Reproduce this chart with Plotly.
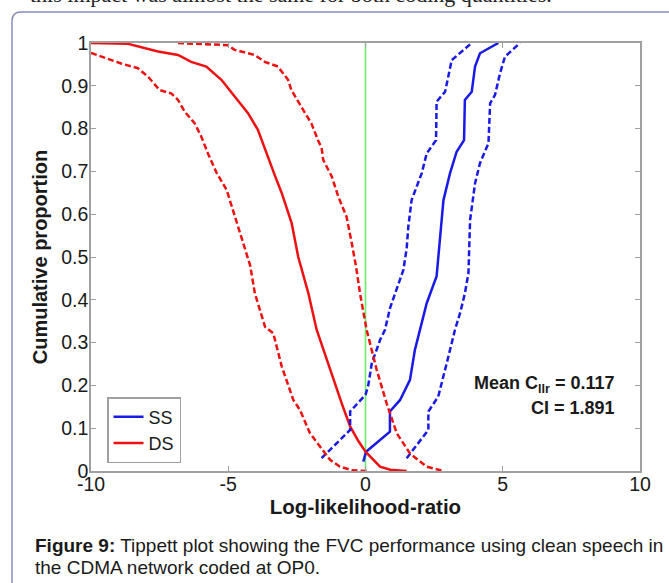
import plotly.graph_objects as go

# ---------------- data ----------------
ds_x = [-10, -8.65, -7.56, -6.83, -6.35, -5.8, -5.25, -4.77, -4.28, -3.92, -3.61, -3.3,
        -3.05, -2.69, -2.45, -2.08, -1.78, -1.41, -1.17, -0.85, -0.56, -0.26, 0.0, 0.53,
        0.9, 1.5]
ds_p = [1.0, 0.998, 0.98, 0.972, 0.956, 0.945, 0.914, 0.875, 0.836, 0.797, 0.742, 0.69,
        0.649, 0.579, 0.5, 0.415, 0.33, 0.259, 0.213, 0.155, 0.104, 0.07, 0.045, 0.01,
        0.003, 0.0]

ds_lo_x = [-10, -8.9, -8.29, -7.92, -7.5, -7.07, -6.83, -6.59, -6.22, -5.98, -5.74, -5.42,
           -5.06, -4.75, -4.45, -4.2, -4.03, -3.66, -3.36, -3.05, -2.63, -2.39, -2.02,
           -1.54, -1.29, -0.93, -0.5, 0.04]
ds_lo_p = [0.977, 0.952, 0.941, 0.921, 0.89, 0.882, 0.867, 0.84, 0.812, 0.781, 0.742, 0.696,
           0.657, 0.594, 0.532, 0.48, 0.415, 0.337, 0.322, 0.244, 0.166, 0.143, 0.088,
           0.049, 0.026, 0.01, 0.002, 0.0]

ds_hi_x = [-6.83, -5.01, -4.77, -4.04, -3.67, -3.19, -2.82, -2.7, -2.34, -1.97, -1.73,
           -1.6, -1.54, -1.23, -0.99, -0.69, -0.5, -0.35, -0.2, 0.04, 0.41, 0.77, 1.14,
           1.62, 2.23, 2.83]
ds_hi_p = [1.0, 0.995, 0.984, 0.972, 0.956, 0.945, 0.914, 0.89, 0.851, 0.812, 0.773,
           0.755, 0.727, 0.688, 0.641, 0.594, 0.532, 0.48, 0.415, 0.33, 0.236, 0.158,
           0.088, 0.041, 0.01, 0.0]

ss_x = [-0.08, 0.02, 0.89, 0.89, 1.26, 1.62, 1.8, 1.99, 2.23, 2.59, 2.65, 2.74, 2.84,
        3.08, 3.32, 3.59, 3.62, 3.87, 3.99, 4.17, 4.84]
ss_p = [0.022, 0.045, 0.092, 0.139, 0.166, 0.213, 0.283, 0.33, 0.392, 0.455, 0.5, 0.571,
        0.633, 0.696, 0.746, 0.773, 0.867, 0.886, 0.945, 0.976, 1.0]

ss_lo_x = [-1.6, -0.56, -0.56, 0.0, 0.1, 0.23, 0.53, 0.71, 0.89, 1.26, 1.38, 1.5, 1.56,
           1.68, 2.05, 2.23, 2.57, 2.59, 2.9, 3.14, 3.87]
ss_lo_p = [0.03, 0.096, 0.139, 0.178, 0.2, 0.252, 0.306, 0.33, 0.38, 0.446, 0.47, 0.52,
           0.571, 0.633, 0.696, 0.742, 0.773, 0.863, 0.886, 0.96, 1.0]

ss_hi_x = [1.5, 2.29, 2.29, 2.65, 2.96, 3.26, 3.45, 3.62, 3.75, 3.81, 3.99, 4.17, 4.48,
           4.54, 4.72, 4.9, 5.08, 5.63]
ss_hi_p = [0.03, 0.096, 0.139, 0.174, 0.252, 0.33, 0.37, 0.415, 0.462, 0.586, 0.672,
           0.719, 0.766, 0.859, 0.879, 0.929, 0.968, 1.0]

threshold_x = [0, 0]
threshold_p = [0, 1]

x_ticks = [-10, -5, 0, 5, 10]
x_ticktext = ["-10", "-5", "0", "5", "10"]
y_ticks = [0, 0.1, 0.2, 0.3, 0.4, 0.5, 0.6, 0.7, 0.8, 0.9, 1]
y_ticktext = ["0", "0.1", "0.2", "0.3", "0.4", "0.5", "0.6", "0.7", "0.8", "0.9", "1"]

mean_cllr = "0.117"
ci_value = "1.891"

# ---------------- figure ----------------
W, H = 669, 583
L, R, T, B = 91, 29, 43, 112
PW, PH = W - L - R, H - T - B

def px_x(px):
    return (px - L) / PW

def px_y(py):
    return (H - B - py) / PH

RED = "#ee1111"
BLUE = "#1a1ae6"
DASH = "6px,3px"
FONT = "Liberation Sans, Arial, sans-serif"
TXT = "#1a1a1a"

fig = go.Figure()
fig.add_trace(go.Scatter(x=threshold_x, y=threshold_p, mode="lines",
                         line=dict(color="#66f066", width=1.6), showlegend=False,
                         hoverinfo="skip"))
fig.add_trace(go.Scatter(x=ss_x, y=ss_p, mode="lines", name="SS",
                         line=dict(color=BLUE, width=2.5)))
fig.add_trace(go.Scatter(x=ds_x, y=ds_p, mode="lines", name="DS",
                         line=dict(color=RED, width=2.5)))
for xs, ps, c in [(ss_lo_x, ss_lo_p, BLUE), (ss_hi_x, ss_hi_p, BLUE),
                  (ds_lo_x, ds_lo_p, RED), (ds_hi_x, ds_hi_p, RED)]:
    fig.add_trace(go.Scatter(x=xs, y=ps, mode="lines", showlegend=False,
                             line=dict(color=c, width=2.5, dash=DASH)))

axis_common = dict(showline=True, linecolor="#a0a0a0", linewidth=1.5, mirror="ticks",
                   ticks="inside", ticklen=5, tickcolor="#a0a0a0", tickwidth=1,
                   showgrid=False, zeroline=False,
                   tickfont=dict(family=FONT, size=19.5, color=TXT))

fig.update_xaxes(range=[-10, 10], tickvals=x_ticks, ticktext=x_ticktext,
                 ticklabelstandoff=-5,
                 title=dict(text="<b>Log-likelihood-ratio</b>", standoff=0,
                            font=dict(family=FONT, size=20.5, color=TXT)),
                 **axis_common)
fig.update_yaxes(range=[0, 1], tickvals=y_ticks, ticktext=y_ticktext,
                 ticklabelstandoff=-3,
                 title=dict(text="<b>Cumulative proportion</b>", standoff=8,
                            font=dict(family=FONT, size=20, color=TXT)),
                 **axis_common)

anns = []
for txt, yy in [("<b>Mean C<sub>llr</sub> = " + mean_cllr + "</b>", 384),
                ("<b>CI = " + ci_value + "</b>", 408)]:
    anns.append(dict(text=txt, x=px_x(617), y=px_y(yy), xref="paper", yref="paper",
                     xanchor="right", yanchor="middle", showarrow=False,
                     font=dict(family=FONT, size=18, color=TXT)))

anns.append(dict(text="<b>Figure 9:</b> Tippett plot showing the FVC performance using clean speech in",
                 x=px_x(33), y=px_y(545), xref="paper", yref="paper", xanchor="left",
                 yanchor="middle", showarrow=False,
                 font=dict(family=FONT, size=19, color=TXT)))
anns.append(dict(text="the CDMA network coded at OP0.",
                 x=px_x(33), y=px_y(567), xref="paper", yref="paper", xanchor="left",
                 yanchor="middle", showarrow=False,
                 font=dict(family=FONT, size=19, color=TXT)))
anns.append(dict(text="this impact was almost the same for both coding quantities.",
                 x=px_x(28), y=px_y(9), xref="paper", yref="paper", xanchor="left",
                 yanchor="bottom", showarrow=False,
                 font=dict(family="Liberation Serif, Times New Roman, serif", size=22,
                           color="#222222")))

r = 9
border_path = (f"M {px_x(12)},{px_y(700)} L {px_x(12)},{px_y(12 + r)} "
               f"Q {px_x(12)},{px_y(12)} {px_x(12 + r)},{px_y(12)} "
               f"L {px_x(720)},{px_y(12)}")

fig.update_layout(
    width=W, height=H, autosize=False,
    margin=dict(l=L, r=R, t=T, b=B, pad=0),
    paper_bgcolor="white", plot_bgcolor="white",
    font=dict(family=FONT, size=19, color=TXT),
    legend=dict(x=px_x(107), y=px_y(397), xanchor="left", yanchor="top",
                bgcolor="white", bordercolor="#a0a0a0", borderwidth=1.5,
                font=dict(family=FONT, size=18, color=TXT),
                itemwidth=30, tracegroupgap=0),
    annotations=anns,
    shapes=[dict(type="path", path=border_path, xref="paper", yref="paper",
                 line=dict(color="#8c8cbc", width=1.5), layer="below")],
)

fig.write_html("out.html", config={"displayModeBar": False},
               post_script="document.body.style.margin='0';document.body.style.overflow='hidden';")
